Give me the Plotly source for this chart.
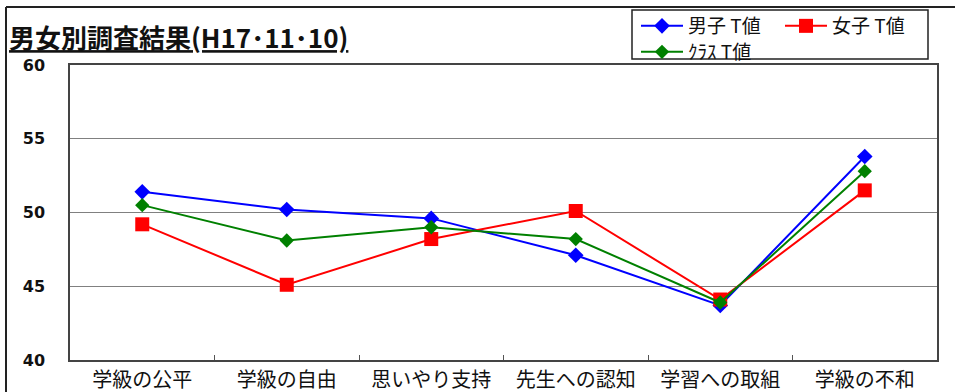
import plotly.graph_objects as go

categories = ["学級の公平", "学級の自由", "思いやり支持", "先生への認知", "学習への取組", "学級の不和"]
boys = [51.4, 50.2, 49.6, 47.1, 43.7, 53.8]
girls = [49.2, 45.1, 48.2, 50.1, 44.1, 51.5]
klass = [50.5, 48.1, 49.0, 48.2, 43.9, 52.8]
y_ticks = [40, 45, 50, 55, 60]
series_names = ["男子 T値", "女子 T値", "ｸﾗｽ T値"]

W, H = 955, 392
ML, MR, MT, MB = 70, 18, 65, 32
PW, PH = W - ML - MR, H - MT - MB


def px(x):
    return (x - ML) / PW


def py(y):
    return (H - MB - y) / PH


CJK = "Noto Sans CJK JP"

fig = go.Figure()
fig.add_trace(go.Scatter(
    x=categories, y=boys, name=series_names[0], mode="lines+markers",
    line=dict(color="#0000FF", width=2),
    marker=dict(symbol="diamond", size=12, color="#0000FF"),
    legend="legend"))
fig.add_trace(go.Scatter(
    x=categories, y=girls, name=series_names[1], mode="lines+markers",
    line=dict(color="#FF0000", width=2),
    marker=dict(symbol="square", size=14, color="#FF0000"),
    legend="legend"))
fig.add_trace(go.Scatter(
    x=categories, y=klass, name=series_names[2], mode="lines+markers",
    line=dict(color="#008000", width=2),
    marker=dict(symbol="diamond", size=11, color="#008000"),
    legend="legend2"))

shapes = [
    # outer chart frame
    dict(type="line", xref="paper", yref="paper", x0=px(6), x1=px(W + 5), y0=py(7), y1=py(7),
         line=dict(color="#222", width=2)),
    dict(type="line", xref="paper", yref="paper", x0=px(6), x1=px(6), y0=py(7), y1=py(H + 5),
         line=dict(color="#222", width=2)),
    # legend box
    dict(type="rect", xref="paper", yref="paper", x0=px(632), x1=px(928), y0=py(10), y1=py(59),
         line=dict(color="#222", width=1.5), fillcolor="white", layer="below"),
    # darker line at 50
    dict(type="line", xref="paper", yref="y", x0=0, x1=1, y0=50, y1=50,
         line=dict(color="#000", width=1.2), layer="below"),
]

fig.update_layout(
    width=W, height=H,
    margin=dict(l=ML, r=MR, t=MT, b=MB, autoexpand=False),
    paper_bgcolor="white", plot_bgcolor="white",
    title=dict(
        text="<b><u>男女別調査結果(H17･11･10)</u></b>",
        font=dict(family=CJK, size=26, color="#111"),
        xref="container", yref="container", x=9 / W, xanchor="left",
        y=1 - 39 / H, yanchor="middle"),
    shapes=shapes,
    legend=dict(
        orientation="h", xref="container", yref="container",
        x=636 / W, xanchor="left", y=1 - 7 / H, yanchor="top",
        font=dict(family=CJK, size=19, color="#111"),
        bgcolor="rgba(0,0,0,0)", itemwidth=42, entrywidth=87,
        tracegroupgap=0),
    legend2=dict(
        orientation="h", xref="container", yref="container",
        x=636 / W, xanchor="left", y=1 - 33 / H, yanchor="top",
        font=dict(family=CJK, size=19, color="#111"),
        bgcolor="rgba(0,0,0,0)", itemwidth=42),
    showlegend=True,
)

fig.update_xaxes(
    type="category", range=[-0.5, len(categories) - 0.5],
    tickson="boundaries", ticks="inside", ticklen=5,
    tickcolor="#555", showgrid=False, automargin=False,
    showline=True, linecolor="#444", linewidth=1.5, mirror=True,
    tickfont=dict(family=CJK, size=20, color="#111"),
    ticklabelstandoff=1,
)
fig.update_yaxes(
    range=[40, 60], tickvals=y_ticks, ticktext=[str(v) for v in y_ticks],
    showgrid=True, gridcolor="#808080", gridwidth=1, automargin=False,
    showline=True, linecolor="#444", linewidth=1.5, mirror=True,
    zeroline=False, ticks="",
    tickfont=dict(family="DejaVu Sans", size=16, color="#111", weight="bold"),
    ticklabelstandoff=20,
)

fig.write_html("out.html")
